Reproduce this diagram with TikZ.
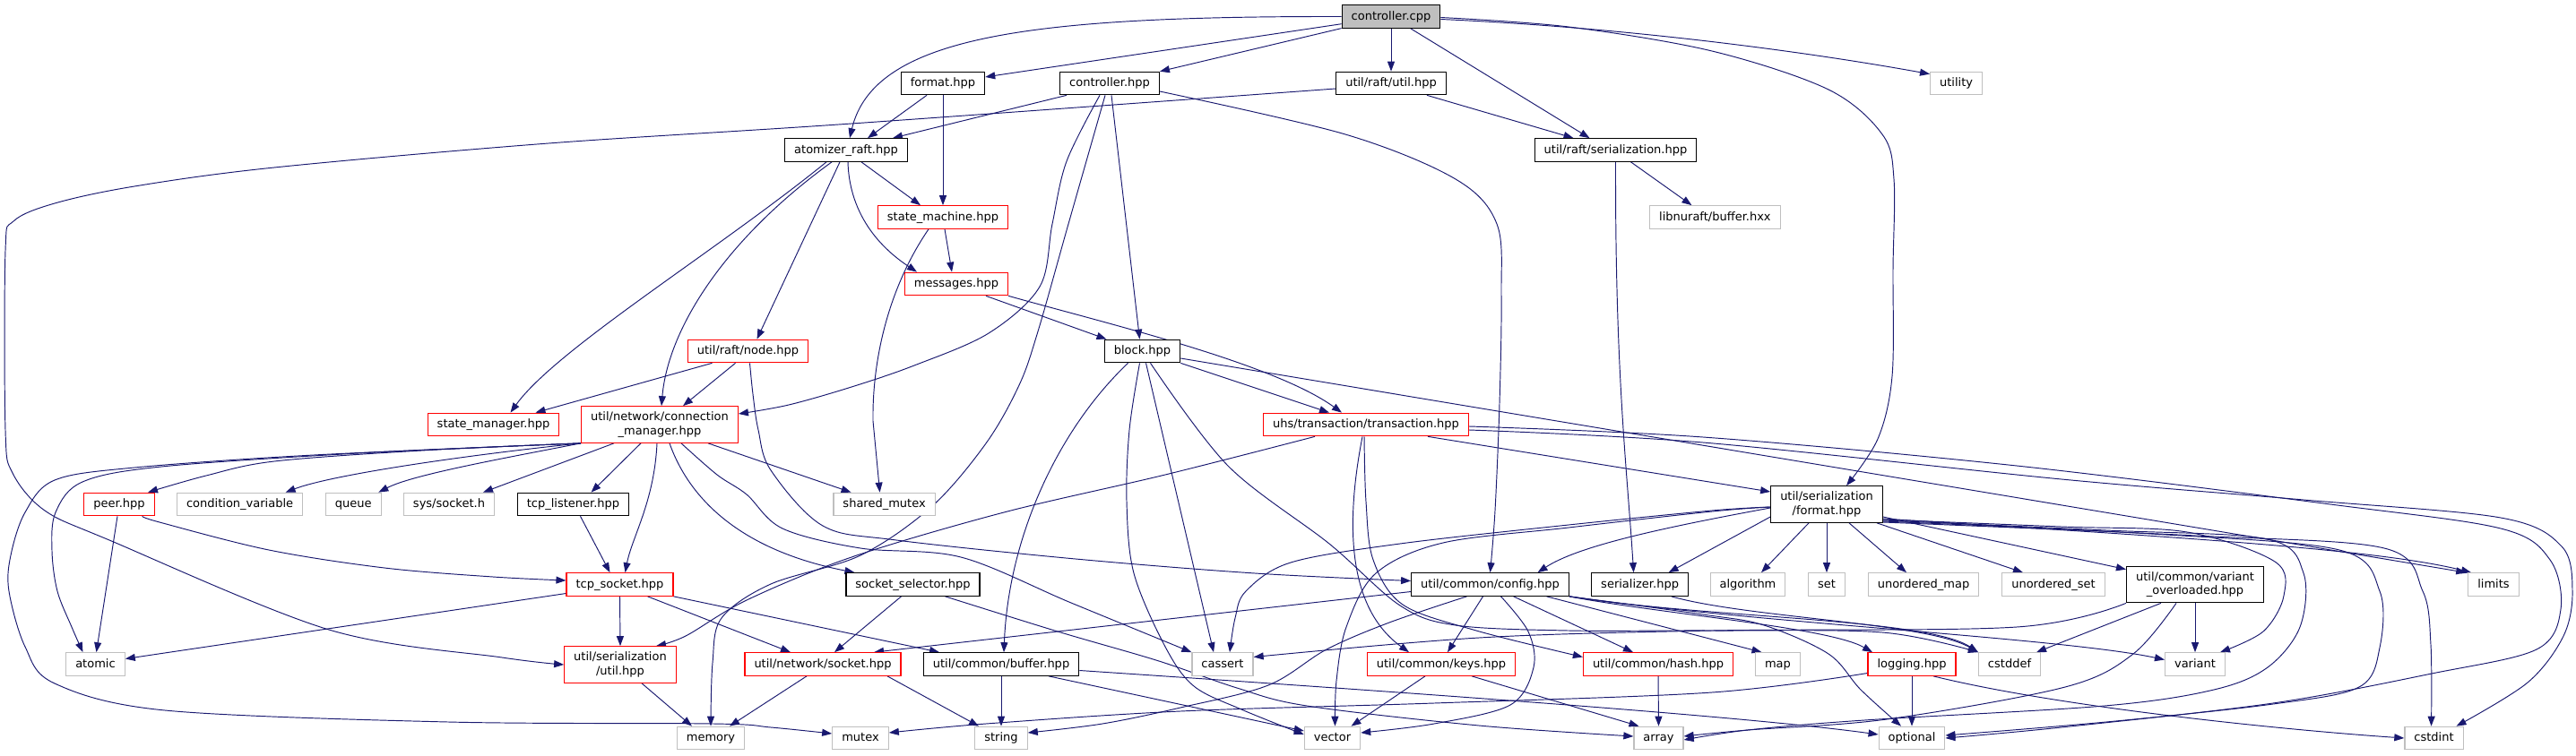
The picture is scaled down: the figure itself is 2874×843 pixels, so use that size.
\documentclass[tikz,border=0pt]{standalone}
\usepackage{fontspec}
\setmainfont{DejaVu Sans}
\usetikzlibrary{arrows.meta}
\definecolor{edgeblue}{HTML}{191970}
\definecolor{sysgray}{HTML}{BFBFBF}
\definecolor{truncred}{HTML}{FF0000}
\pgfdeclarelayer{bg}
\pgfdeclarelayer{edgelayer}
\pgfsetlayers{bg,edgelayer,main}
\begin{document}
\begin{tikzpicture}[x=1pt,y=-1pt,
 base/.style={draw, line width=1.2pt, inner xsep=10.5pt, inner ysep=0pt, font=\fontsize{13pt}{15.5pt}\selectfont, fill=white},
 one/.style={base, minimum height=25.5pt, text height=10pt, text depth=2.7pt},
 two/.style={base, minimum height=40.5pt, align=center},
 doc/.style={draw=black},
 trunc/.style={draw=truncred},
 sys/.style={draw=sysgray},
 edge/.style={draw=edgeblue, line width=0.95pt, -{Triangle[length=11pt,width=8pt]}},
 curvy/.style={smooth, tension=0.55}
]
\begin{pgfonlayer}{bg}
\fill[white] (0,0) rectangle (2874,843);
\end{pgfonlayer}
\useasboundingbox (0,0) rectangle (2874,843);

% nodes
\node[one,doc,fill=sysgray] (cpp) at (1552,18.5) {controller.cpp};
\node[one,doc] (fmt) at (1052,93) {format.hpp};
\node[one,doc] (ch) at (1238,93) {controller.hpp};
\node[one,doc] (rutil) at (1552,93) {util/raft/util.hpp};
\node[one,sys] (utility) at (2182.6,93) {utility};
\node[one,doc] (ar) at (944,167.5) {atomizer\_raft.hpp};
\node[one,doc] (rser) at (1802.5,167.5) {util/raft/serialization.hpp};
\node[one,trunc] (sm) at (1052,242.5) {state\_machine.hpp};
\node[one,sys] (nuraft) at (1913.4,242.5) {libnuraft/buffer.hxx};
\node[one,trunc] (msg) at (1067,317) {messages.hpp};
\node[one,trunc] (rnode) at (834.5,392) {util/raft/node.hpp};
\node[one,doc] (block) at (1274.5,392) {block.hpp};
\node[one,trunc] (stmgr) at (550.5,474) {state\_manager.hpp};
\node[two,trunc] (cm) at (736,474) {util/network/connection\\\_manager.hpp};
\node[one,trunc] (txn) at (1524,474) {uhs/transaction/transaction.hpp};
\node[one,trunc] (peer) at (133,563) {peer.hpp};
\node[one,sys] (condvar) at (267.6,563) {condition\_variable};
\node[one,sys] (queue) at (394.3,563) {queue};
\node[one,sys] (syssock) at (501,563) {sys/socket.h};
\node[one,doc] (tcplisten) at (639.5,563) {tcp\_listener.hpp};
\node[one,sys] (shmutex) at (986.6,563) {shared\_mutex};
\node[two,doc] (sfmt) at (2038,563) {util/serialization\\/format.hpp};
\node[one,trunc] (tcpsock) at (691.5,652.5) {tcp\_socket.hpp};
\node[one,doc] (socksel) at (1018.5,652.5) {socket\_selector.hpp};
\node[one,doc] (config) at (1662.5,652.5) {util/common/config.hpp};
\node[one,doc] (serializer) at (1829.6,652.5) {serializer.hpp};
\node[one,sys] (algorithm) at (1950,652.5) {algorithm};
\node[one,sys] (set) at (2038,652.5) {set};
\node[one,sys] (umap) at (2146,652.5) {unordered\_map};
\node[one,sys] (uset) at (2291,652.5) {unordered\_set};
\node[two,doc] (vo) at (2449,652.5) {util/common/variant\\\_overloaded.hpp};
\node[one,sys] (limits) at (2782,652.5) {limits};
\node[one,sys] (atomic) at (106.5,741.5) {atomic};
\node[two,trunc] (sutil) at (692,742) {util/serialization\\/util.hpp};
\node[one,trunc] (socket) at (918,741.5) {util/network/socket.hpp};
\node[one,doc] (buffer) at (1117,741.5) {util/common/buffer.hpp};
\node[one,sys] (cassert) at (1364,741.5) {cassert};
\node[one,trunc] (keys) at (1608,741.5) {util/common/keys.hpp};
\node[one,trunc] (hash) at (1850,741.5) {util/common/hash.hpp};
\node[one,sys] (map) at (1983.5,741.5) {map};
\node[one,trunc] (logging) at (2133,741.5) {logging.hpp};
\node[one,sys] (cstddef) at (2242,741.5) {cstddef};
\node[one,sys] (variant) at (2449,741.5) {variant};
\node[one,sys] (memory) at (793,824) {memory};
\node[one,sys] (mutex) at (960,824) {mutex};
\node[one,sys] (string) at (1117,824) {string};
\node[one,sys] (vector) at (1486.5,824) {vector};
\node[one,sys] (array) at (1850.5,824) {array};
\node[one,sys] (optional) at (2133,824) {optional};
\node[one,sys] (cstdint) at (2715.5,824) {cstdint};

\begin{pgfonlayer}{edgelayer}
% controller.cpp
\draw[edge] (cpp.west) .. controls (1150,18) and (975,40) .. ([xshift=4pt]ar.north);
\draw[edge] (cpp) -- (fmt);
\draw[edge] (cpp) -- (ch);
\draw[edge] (cpp) -- (rutil);
\draw[edge] (cpp) -- ([xshift=-29pt]rser.north);
\draw[edge] ([yshift=-3pt]cpp.east) .. controls (1800,30) and (2000,55) .. ([yshift=-3pt]utility.north west);
\draw[edge] plot[curvy] coordinates {([yshift=-1pt]cpp.east) (1750,30) (1910,57) (2040,100) (2100,150) (2113,200) (2112,300) (2111,420) (2095,490) ([xshift=22pt]sfmt.north)};
% format.hpp
\draw[edge] ([xshift=-18pt]fmt.south) -- ([xshift=24pt]ar.north);
\draw[edge] (fmt) -- (sm);
% controller.hpp
\draw[edge] ([xshift=-48pt]ch.south) -- ([xshift=52pt]ar.north);
\draw[edge] plot[curvy] coordinates {([xshift=-11pt]ch.south) (1190,180) (1174,250) (1160,320) (1103,372) (1020,408) (950,432) (880,452) ([yshift=12pt]cm.east)};
\draw[edge] plot[curvy] coordinates {([xshift=-5pt]ch.south) (1192,250) (1158,370) (1137,430) (1100,495) (1040,565) (960,620) (860,652) (805,690) (795,740) (memory.north)};
\draw[edge] ([xshift=2pt]ch.south) -- ([xshift=-3pt]block.north);
\draw[edge] plot[curvy] coordinates {([yshift=-9pt]ch.east) (1501,150) (1624,200) (1670,250) (1675,330) (1673,450) (1668,570) (config.north)};
% util/raft/util.hpp
\draw[edge] ([xshift=40pt]rutil.south) -- ([xshift=-47pt]rser.north);
\draw[edge] plot[curvy] coordinates {([yshift=-6pt]rutil.west) (950,138) (612,160) (306,187) (150,208) (61,227) (15,247) (6,280) (6,480) (14,528) (50,570) (122,603) (367,703) (560,734) (sutil.west)};
% util/raft/serialization.hpp
\draw[edge] ([xshift=17pt]rser.south) -- ([xshift=-26pt]nuraft.north);
\draw[edge] (rser.south) .. controls (1802,420) and (1815,520) .. ([xshift=-7pt]serializer.north);
% atomizer_raft.hpp
\draw[edge] ([xshift=-22pt]ar.south) .. controls (800,280) and (620,390) .. ([xshift=19pt]stmgr.north);
\draw[edge] ([xshift=-16pt]ar.south) .. controls (805,270) and (745,370) .. ([xshift=2pt]cm.north);
\draw[edge] ([xshift=-7pt]ar.south) -- ([xshift=10pt]rnode.north);
\draw[edge] ([xshift=2pt]ar.south) .. controls (948,250) and (995,285) .. ([xshift=-44pt]msg.north);
\draw[edge] ([xshift=17pt]ar.south) -- ([xshift=-25pt]sm.north);
% state_machine.hpp
\draw[edge] ([xshift=2pt]sm.south) -- ([xshift=-5pt]msg.north);
\draw[edge] ([xshift=-16pt]sm.south) .. controls (992,320) and (973,400) .. (974,470) -- ([xshift=-5pt]shmutex.north);
% messages.hpp
\draw[edge] ([xshift=33pt]msg.south) -- ([xshift=-40pt]block.north);
\draw[edge] (msg.south east) .. controls (1230,360) and (1420,405) .. ([xshift=-27pt]txn.north);
% util/raft/node.hpp
\draw[edge] ([xshift=-40pt]rnode.south) -- ([xshift=47pt]stmgr.north);
\draw[edge] ([xshift=-14pt]rnode.south) -- ([xshift=26pt]cm.north);
\draw[edge] plot[curvy] coordinates {([xshift=2pt]rnode.south) (840,440) (846,480) (860,525) (918,587) (1000,603) (1200,624) (1400,640) ([yshift=4pt]config.west)};
% block.hpp
\draw[edge] (block.south east) -- ([xshift=-41pt]txn.north);
\draw[edge] ([yshift=-8pt]block.east) -- ([xshift=-2pt]limits.north west);
\draw[edge] ([xshift=-16pt]block.south) .. controls (1180,480) and (1125,600) .. ([xshift=3pt]buffer.north);
\draw[edge] plot[curvy] coordinates {([xshift=-3pt]block.south) (1260,480) (1257,560) (1265,640) (1300,722) (1332,766) (1385,792) ([yshift=4pt]vector.west)};
\draw[edge] ([xshift=4pt]block.south) -- ([xshift=-10pt]cassert.north);
\draw[edge] plot[curvy] coordinates {([xshift=9pt]block.south) (1370,520) (1483,607) (1562,676) (1624,698) (1750,704) (1910,704) (2100,706) (cstddef.north west)};
% transaction.hpp
\draw[edge] plot[curvy] coordinates {([xshift=-57pt]txn.south) (1300,530) (1120,572) (950,622) (833,670) (765,710) ([xshift=40pt]sutil.north)};
\draw[edge] ([xshift=-4pt]txn.south) .. controls (1500,590) and (1505,680) .. ([xshift=-36pt]keys.north);
\draw[edge] plot[curvy] coordinates {([xshift=-2pt]txn.south) (1524,560) (1532,625) (1565,675) (1647,704) ([yshift=8pt]hash.west)};
\draw[edge] ([xshift=69pt]txn.south) -- ([yshift=14pt]sfmt.west);
\draw[edge] plot[curvy] coordinates {([yshift=-2pt]txn.east) (1900,488) (2250,520) (2600,563) (2790,590) (2845,625) (2857,680) (2830,725) (2713,752) (2536,785) (2300,812) (optional.east)};
\draw[edge] plot[curvy] coordinates {([yshift=-6pt]txn.east) (1900,494) (2300,535) (2570,558) (2790,578) (2858,610) (2870,660) (2860,710) (2820,762) ([xshift=25pt]cstdint.north)};
% connection_manager.hpp
\draw[edge] plot[curvy] coordinates {(cm.south west) (350,508) (150,522) (61,536) (28,572) (12,620) (10,660) (28,722) (61,763) (184,793) (500,806) (796,808) (860,812) ([yshift=5pt]mutex.west)};
\draw[edge] plot[curvy] coordinates {(cm.south west) (400,506) (180,521) (92,538) (62,572) (58,615) (64,660) (80,700) ([xshift=-14pt]atomic.north)};
\draw[edge] plot[curvy] coordinates {(cm.south west) (470,503) (306,515) (230,531) ([xshift=32pt]peer.north)};
\draw[edge] (cm.south west) .. controls (520,508) and (370,530) .. ([xshift=51pt]condvar.north);
\draw[edge] (cm.south west) .. controls (560,512) and (460,530) .. ([xshift=28pt]queue.north);
\draw[edge] ([xshift=-51pt]cm.south) -- ([xshift=38pt]syssock.north);
\draw[edge] ([xshift=-21pt]cm.south) -- ([xshift=20pt]tcplisten.north);
\draw[edge] ([xshift=-3pt]cm.south) .. controls (730,560) and (705,600) .. ([xshift=6pt]tcpsock.north);
\draw[edge] ([xshift=11pt]cm.south) .. controls (770,560) and (830,615) .. ([xshift=-65pt]socksel.north);
\draw[edge] plot[curvy] coordinates {([xshift=24pt]cm.south) (800,530) (833,552) (873,590) (960,612) (1072,622) (1195,673) (cassert.north west)};
\draw[edge] ([xshift=54pt]cm.south) -- ([xshift=-37pt]shmutex.north);
% peer.hpp
\draw[edge] ([xshift=-2pt]peer.south) -- ([xshift=1pt]atomic.north);
\draw[edge] plot[curvy] coordinates {([xshift=26pt]peer.south) (178,583) (300,614) (429,634) (550,644) ([yshift=4.5pt]tcpsock.west)};
% tcp_listener.hpp
\draw[edge] ([xshift=8pt]tcplisten.south) -- ([xshift=-11pt]tcpsock.north);
% tcp_socket.hpp
\draw[edge] ([yshift=-10pt]tcpsock.west) -- ([yshift=6pt]atomic.east);
\draw[edge] (tcpsock.south) -- (sutil.north);
\draw[edge] ([xshift=31pt]tcpsock.south) -- ([xshift=-36pt]socket.north);
\draw[edge] (tcpsock.south east) -- ([xshift=-69pt]buffer.north);
% socket_selector.hpp
\draw[edge] ([xshift=-13pt]socksel.south) -- ([xshift=13pt]socket.north);
\draw[edge] plot[curvy] coordinates {([xshift=36pt]socksel.south) (1180,705) (1293,738) (1380,768) (1458,788) (1650,810) ([yshift=2pt]array.west)};
% socket.hpp
\draw[edge] ([xshift=-18pt]socket.south) -- ([xshift=21pt]memory.north);
\draw[edge] ([xshift=72pt]socket.south) -- ([xshift=-25pt]string.north);
% serialization/util.hpp
\draw[edge] ([xshift=24pt]sutil.south) -- ([xshift=-21pt]memory.north);
% buffer.hpp
\draw[edge] (buffer.south) -- (string.north);
\draw[edge] ([xshift=53pt]buffer.south) -- ([yshift=8pt]vector.west);
\draw[edge] ([yshift=-7pt]buffer.east) .. controls (1600,775) and (1950,800) .. ([yshift=4pt]optional.west);
% keys.hpp
\draw[edge] ([xshift=-18pt]keys.south) -- ([xshift=21pt]vector.north);
\draw[edge] ([xshift=34pt]keys.south) -- ([xshift=-22pt]array.north);
% hash.hpp
\draw[edge] (hash.south) -- (array.north);
% config.hpp
\draw[edge] ([yshift=-8pt]config.west) -- ([xshift=57pt]socket.north);
\draw[edge] plot[curvy] coordinates {([xshift=-26pt]config.south) (1550,695) (1480,725) (1415,765) (1317,790) (1230,808) ([yshift=6pt]string.east)};
\draw[edge] ([xshift=-8pt]config.south) -- ([xshift=7pt]keys.north);
\draw[edge] plot[curvy] coordinates {([xshift=12pt]config.south) (1705,705) (1711,745) (1685,787) (1600,808) ([yshift=6pt]vector.east)};
\draw[edge] ([xshift=26pt]config.south) -- ([xshift=-28pt]hash.north);
\draw[edge] ([xshift=63pt]config.south) -- ([xshift=-18pt]map.north);
\draw[edge] (config.south east) .. controls (1850,685) and (2040,700) .. ([xshift=-44pt]logging.north);
\draw[edge] (config.south east) .. controls (1900,690) and (2150,690) .. (cstddef.north west);
\draw[edge] (config.south east) .. controls (1950,695) and (2300,712) .. ([yshift=5pt]variant.west);
\draw[edge] plot[curvy] coordinates {(config.south east) (1900,686) (1968,698) (2040,730) (2076,770) ([xshift=-12pt]optional.north)};
% serializer.hpp
\draw[edge] ([xshift=35pt]serializer.south) .. controls (1950,690) and (2150,695) .. (cstddef.north west);
% logging.hpp
\draw[edge] plot[curvy] coordinates {([yshift=-10pt]logging.west) (1910,773) (1600,785) (1317,794) (1100,808) ([yshift=6pt]mutex.east)};
\draw[edge] (logging.south) -- (optional.north);
\draw[edge] ([xshift=24pt]logging.south) .. controls (2300,790) and (2550,815) .. (cstdint.west);
% variant_overloaded.hpp
\draw[edge] plot[curvy] coordinates {(vo.south west) (2250,700) (1910,704) (1650,712) ([yshift=8pt]cassert.east)};
\draw[edge] ([xshift=-38pt]vo.south) -- ([xshift=30pt]cstddef.north);
\draw[edge] (vo.south) -- (variant.north);
\draw[edge] plot[curvy] coordinates {([xshift=-21pt]vo.south) (2380,730) (2304,767) (2105,803) (1950,815) ([yshift=2pt]array.east)};
% serialization/format.hpp
\draw[edge] ([xshift=-20pt]sfmt.south) -- ([xshift=15pt]algorithm.north);
\draw[edge] (sfmt) -- (set);
\draw[edge] ([xshift=25pt]sfmt.south) -- ([xshift=-19pt]umap.north);
\draw[edge] ([xshift=56pt]sfmt.south) -- ([xshift=-34pt]uset.north);
\draw[edge] ([yshift=-14pt]sfmt.east) -- ([yshift=-4pt]vo.north west);
\draw[edge] ([yshift=-16pt]sfmt.east) .. controls (2400,598) and (2650,612) .. ([xshift=-25pt]limits.north);
\draw[edge] plot[curvy] coordinates {([yshift=-17pt]sfmt.east) (2300,588) (2440,594) (2538,627) (2548,665) (2525,705) ([xshift=28pt]variant.north)};
\draw[edge] plot[curvy] coordinates {([yshift=-18pt]sfmt.east) (2350,592) (2530,602) (2570,640) (2566,700) (2530,745) (2470,770) (2348,788) (2080,804) (1950,815) ([yshift=-2pt]array.east)};
\draw[edge] plot[curvy] coordinates {([yshift=-19pt]sfmt.east) (2400,596) (2610,614) (2655,660) (2655,723) (2632,767) (2536,786) (2350,806) ([yshift=3pt]optional.east)};
\draw[edge] plot[curvy] coordinates {([yshift=-20pt]sfmt.east) (2450,598) (2660,612) (2703,660) (2712,720) ([xshift=-3pt]cstdint.north)};
\draw[edge] ([yshift=-4pt]sfmt.west) .. controls (1850,590) and (1760,610) .. ([xshift=53pt]config.north);
\draw[edge] ([yshift=-14pt]sfmt.west) -- ([xshift=32pt]serializer.north);
\draw[edge] plot[curvy] coordinates {([yshift=-3pt]sfmt.west) (1910,570) (1750,586) (1562,607) (1440,628) (1390,660) (1378,690) ([xshift=8pt]cassert.north)};
\draw[edge] plot[curvy] coordinates {([yshift=-3pt]sfmt.west) (1910,571) (1750,589) (1610,606) (1535,640) (1502,700) (1491,760) ([xshift=3pt]vector.north)};
\end{pgfonlayer}
\end{tikzpicture}
\end{document}
